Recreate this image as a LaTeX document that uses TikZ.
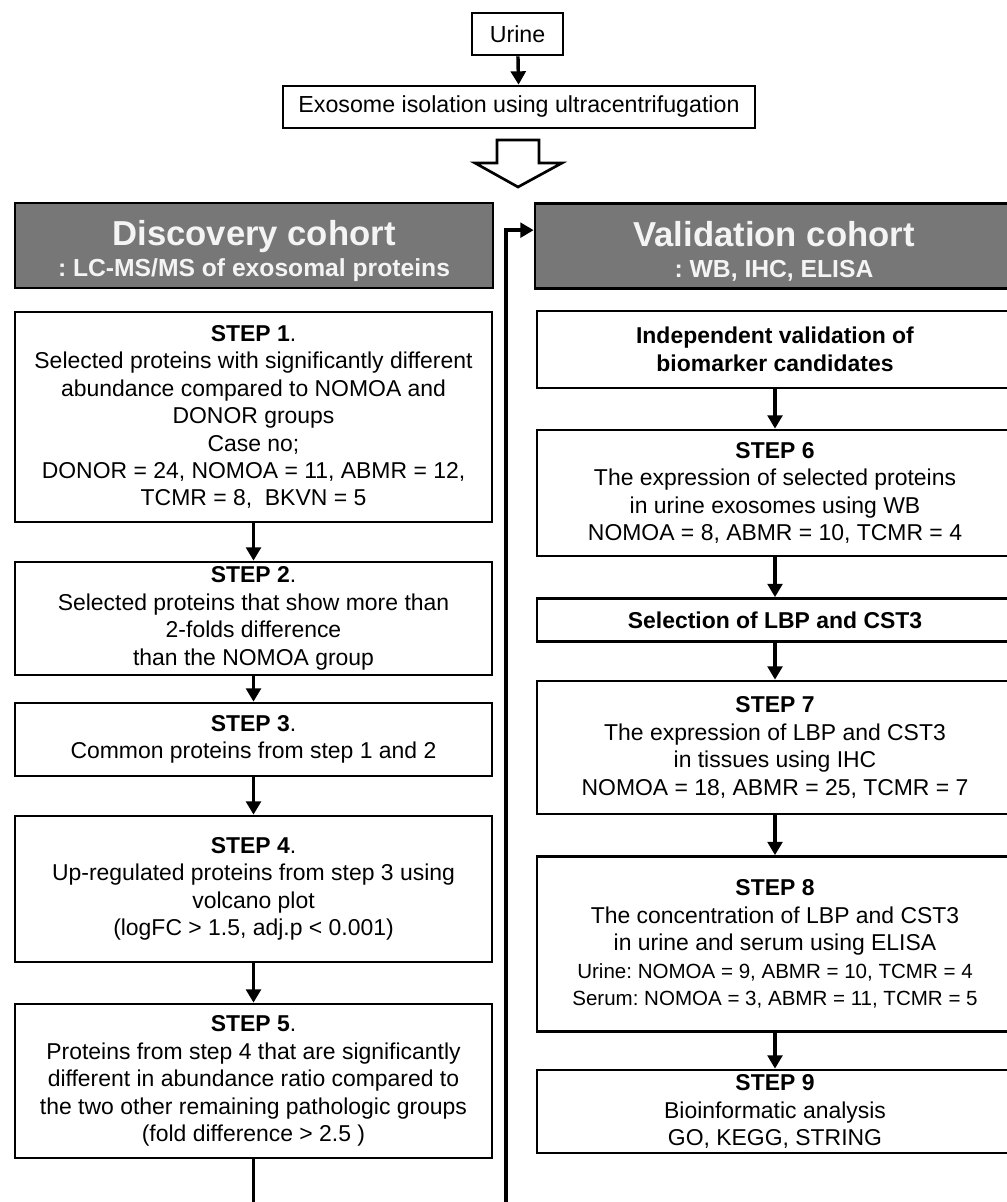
\documentclass[tikz,border=0pt]{standalone}
\usepackage{fontspec}
\setmainfont{Liberation Sans}
\usetikzlibrary{arrows.meta}
\definecolor{hdrgray}{HTML}{777777}
\definecolor{hdrtext}{HTML}{F4F4F4}
\begin{document}
\frenchspacing
\begin{tikzpicture}[x=0.75pt,y=-0.75pt,
  box/.style={draw=black, line width=2pt, fill=white, rectangle, align=center, inner sep=0pt,
    font=\frenchspacing\fontsize{17.2}{20.6}\selectfont},
  lbox/.style={box, minimum width=357.75pt},
  rbox/.style={box, minimum width=357pt},
  hdr/.style={draw=black, line width=2pt, fill=hdrgray, text=hdrtext, align=center, inner sep=0pt,
    minimum width=358.5pt, minimum height=63.75pt, font=\bfseries\fontsize{18.5}{23}\selectfont},
  flow/.style={line width=2.6pt, -{Triangle[length=10pt,width=11pt]}},
  plain/.style={line width=2.6pt},
  hollow/.style={draw=black, line width=2pt, fill=white, line join=miter},
]
\useasboundingbox (0,0) rectangle (1006,1202);

% top
\node[box, minimum width=68.25pt, minimum height=31.5pt, font=\fontsize{17.4}{20}\selectfont] (u) at (517.5,34) {Urine};
\node[box, minimum width=354pt, minimum height=31.5pt, font=\fontsize{17.4}{20}\selectfont] (ex) at (519,107) {Exosome isolation using ultracentrifugation};
\draw[flow] (u) -- (ex);
\draw[hollow] (497,140) -- (539,140) -- (539,163) -- (562,163) -- (518,187) -- (475,163) -- (497,163) -- cycle;

% headers
\node[hdr] (dh) at (254,245.5) {{\fontsize{26}{23}\selectfont\rule{0pt}{27pt}Discovery cohort}\\: LC-MS/MS of exosomal proteins};
\node[hdr] (vh) at (774,246) {{\fontsize{26}{23}\selectfont\rule{0pt}{27pt}Validation cohort}\\: WB, IHC, ELISA};

% left column
\node[lbox, minimum height=157.5pt] (s1) at (253.5,417) {\textbf{STEP 1}.\\Selected proteins with significantly different\\abundance compared to NOMOA and\\DONOR groups\\Case no;\\DONOR = 24, NOMOA = 11, ABMR = 12,\\TCMR = 8,\ \ BKVN = 5};
\node[lbox, minimum height=84.75pt] (s2) at (253.5,618.5) {\textbf{STEP 2}.\\Selected proteins that show more than\\2-folds difference\\than the NOMOA group};
\node[lbox, minimum height=54.75pt] (s3) at (253.5,739.5) {\textbf{STEP 3}.\\Common proteins from step 1 and 2};
\node[lbox, minimum height=109.5pt] (s4) at (253.5,889) {\textbf{STEP 4}.\\Up-regulated proteins from step 3 using\\volcano plot\\(logFC > 1.5, adj.p < 0.001)};
\node[lbox, minimum height=115.5pt] (s5) at (253.5,1081) {\textbf{STEP 5}.\\Proteins from step 4 that are significantly\\different in abundance ratio compared to\\the two other remaining pathologic groups\\(fold difference > 2.5 )};

\draw[flow] (s1) -- (s2);
\draw[flow] (s2) -- (s3);
\draw[flow] (s3) -- (s4);
\draw[flow] (s4) -- (s5);

% right column
\node[rbox, minimum height=57.75pt] (iv) at (775,349.5) {\textbf{Independent validation of}\\\textbf{biomarker candidates}};
\node[rbox, minimum height=94.5pt] (s6) at (775,493) {\textbf{STEP 6}\\The expression of selected proteins\\in urine exosomes using WB\\NOMOA = 8, ABMR = 10, TCMR = 4};
\node[rbox, minimum height=32.25pt] (sel) at (775,620) {\textbf{Selection of LBP and CST3}};
\node[rbox, minimum height=99.75pt] (s7) at (775,747.5) {\textbf{STEP 7}\\The expression of LBP and CST3\\in tissues using IHC\\NOMOA = 18, ABMR = 25, TCMR = 7};
\node[rbox, minimum height=131.25pt] (s8) at (775,944) {\textbf{STEP 8}\\The concentration of LBP and CST3\\in urine and serum using ELISA\\{\fontsize{15.4}{19}\selectfont Urine: NOMOA = 9, ABMR = 10, TCMR = 4}\\{\fontsize{15.4}{19}\selectfont Serum: NOMOA = 3, ABMR = 11, TCMR = 5}};
\node[rbox, minimum height=62.25pt] (s9) at (775,1111.5) {\textbf{STEP 9}\\Bioinformatic analysis\\GO, KEGG, STRING};

\draw[flow] (iv) -- (s6);
\draw[flow] (s6) -- (sel);
\draw[flow] (sel) -- (s7);
\draw[flow] (s7) -- (s8);
\draw[flow] (s8) -- (s9);

% connector from discovery to validation (runs off the bottom edge)
\coordinate (bl) at (253.5,1202);
\coordinate (br) at (506,1202);
\draw[plain] (s5.south) -- (bl);
\draw[flow] (br) |- ([yshift=-21pt]vh.north west);
\end{tikzpicture}
\end{document}
